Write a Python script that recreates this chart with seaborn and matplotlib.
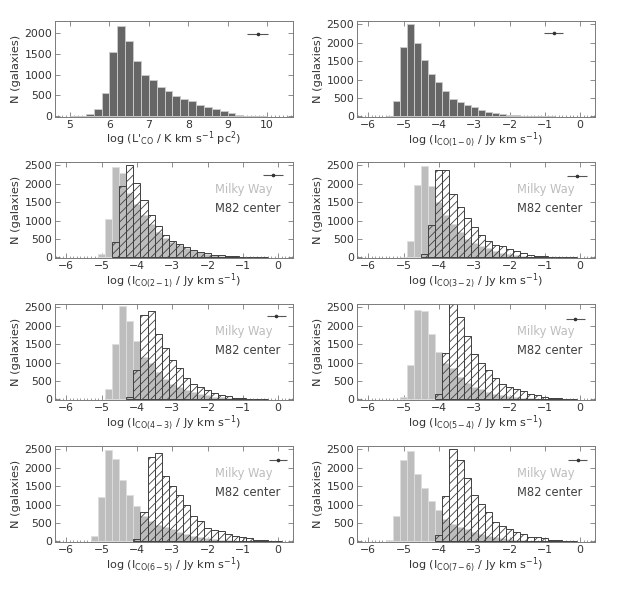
import numpy as np
import pandas as pd
import matplotlib
matplotlib.use("Agg")
import matplotlib.pyplot as plt
from matplotlib.ticker import MultipleLocator
import seaborn as sns

# ------------------------------
# data (bin width 0.2 dex, first bin's left edge given)
# ------------------------------
bin_width = 0.2

lco_start = 5.0
lco_counts = [5, 15, 50, 170, 560, 1530, 2170, 1790, 1330, 990, 870, 710, 600,
              490, 410, 360, 260, 230, 180, 120, 70, 40, 20, 10, 5]

co10_start = -5.5
co10_counts = [20, 420, 1890, 2500, 1990, 1530, 1160, 930, 690, 480, 400, 310,
               250, 180, 130, 95, 65, 45, 30, 20, 15, 10, 6, 4]

# Milky Way conversion (filled light grey)
mw21_start = -5.1
mw21_counts = [90, 1050, 2450, 2280, 1750, 1450, 1150, 900, 700, 520, 420, 330,
               260, 190, 140, 100, 70, 50, 30, 20, 15, 10]
mw32_start = -5.1
mw32_counts = [20, 450, 1960, 2480, 1950, 1500, 1150, 920, 700, 500, 400, 310,
               250, 180, 130, 90, 60, 40, 25, 15, 10, 6]
mw43_start = -4.9
mw43_counts = [280, 1500, 2530, 2120, 1600, 1150, 1000, 750, 560, 430, 340, 270,
               200, 150, 110, 80, 55, 40, 25, 15, 10]
mw54_start = -5.1
mw54_counts = [60, 930, 2440, 2390, 1780, 1290, 1000, 850, 600, 450, 350, 280,
               200, 160, 120, 90, 60, 40, 30, 20, 12, 8]
mw65_start = -5.3
mw65_counts = [140, 1210, 2480, 2250, 1680, 1250, 950, 700, 550, 450, 400, 330,
               260, 200, 150, 110, 80, 60, 45, 30, 20, 12, 8]
mw76_start = -5.5
mw76_counts = [30, 680, 2200, 2450, 1820, 1440, 1100, 850, 600, 480, 400, 330,
               260, 200, 160, 120, 90, 65, 50, 35, 25, 15, 10, 6]

# M82 center conversion (hatched)
m82_21_start = -4.7
m82_21_counts = [430, 1950, 2500, 2030, 1570, 1150, 850, 600, 450, 360, 280, 210,
                 160, 120, 80, 60, 40, 30, 20, 12, 8, 5]
m82_32_start = -4.5
m82_32_counts = [100, 880, 2370, 2370, 1720, 1360, 1070, 830, 620, 460, 350, 300,
                 220, 170, 130, 80, 50, 35, 25, 15, 10, 5]
m82_43_start = -4.3
m82_43_counts = [80, 800, 2300, 2390, 1770, 1390, 1080, 850, 580, 420, 330, 270,
                 180, 130, 100, 50, 30, 20, 10, 5]
m82_54_start = -4.1
m82_54_counts = [150, 1260, 2600, 2230, 1710, 1230, 1000, 800, 580, 430, 340, 280,
                 230, 160, 120, 80, 50, 30, 20, 10]
m82_65_start = -4.1
m82_65_counts = [70, 800, 2280, 2400, 1780, 1500, 1270, 1000, 680, 560, 360, 300,
                 270, 200, 160, 110, 80, 50, 30, 20, 10]
m82_76_start = -4.1
m82_76_counts = [180, 1230, 2500, 2210, 1720, 1250, 1020, 800, 540, 430, 330, 260,
                 200, 130, 110, 80, 50, 30, 20, 10]

# typical error bar shown in the upper right of every panel
err_x = [9.76, -0.75, -0.15, -0.09, -0.06, -0.14, -0.01, -0.07]
err_xerr = [0.26, 0.27, 0.28, 0.28, 0.27, 0.27, 0.26, 0.27]
err_y = [1960, 2255, 2250, 2200, 2260, 2180, 2220, 2220]

transitions = ["1-0", "2-1", "3-2", "4-3", "5-4", "6-5", "7-6"]

# ------------------------------
# style
# ------------------------------
sns.set_style("ticks")
plt.rcParams["font.family"] = ["DejaVu Sans"]
plt.rcParams["mathtext.fontset"] = "dejavusans"
plt.rcParams["hatch.linewidth"] = 0.6
plt.rcParams["hatch.color"] = "#404040"

dark_grey = "#666666"
light_grey = "#bdbdbd"
hatch_col = "#404040"
frame_col = "#7a7a7a"
text_col = "#333333"


def bars(ax, start, counts, **kws):
    counts = np.asarray(counts, dtype=float)
    edges = start + bin_width * np.arange(len(counts) + 1)
    df = pd.DataFrame({"x": 0.5 * (edges[:-1] + edges[1:]), "n": counts})
    sns.histplot(data=df, x="x", weights="n", bins=list(edges), ax=ax, **kws)


fig = plt.figure(figsize=(6.23, 5.90), dpi=100)

col_left = [0.0883, 0.573]
row_bottom = [0.8017, 0.5627, 0.3220, 0.0814]
ax_w, ax_h = 0.382, 0.1627

mw_sets = [(mw21_start, mw21_counts), (mw32_start, mw32_counts),
           (mw43_start, mw43_counts), (mw54_start, mw54_counts),
           (mw65_start, mw65_counts), (mw76_start, mw76_counts)]
m82_sets = [(m82_21_start, m82_21_counts), (m82_32_start, m82_32_counts),
            (m82_43_start, m82_43_counts), (m82_54_start, m82_54_counts),
            (m82_65_start, m82_65_counts), (m82_76_start, m82_76_counts)]

for i in range(8):
    r, c = divmod(i, 2)
    ax = fig.add_axes([col_left[c], row_bottom[r], ax_w, ax_h])

    if i == 0:
        bars(ax, lco_start, lco_counts, color=dark_grey, alpha=1,
             edgecolor="#c8c8c8", linewidth=0.7)
        ax.set_xlim(4.62, 10.66)
        ax.set_ylim(-15, 2280)
        ax.set_xticks([5, 6, 7, 8, 9, 10])
        ax.set_yticks([0, 500, 1000, 1500, 2000])
        ax.set_xlabel(r"log (L$'_{\rm CO}$ / K km s$^{-1}$ pc$^{2}$)")
    elif i == 1:
        bars(ax, co10_start, co10_counts, color=dark_grey, alpha=1,
             edgecolor="#c8c8c8", linewidth=0.7)
    else:
        ms, mc = mw_sets[i - 2]
        hs, hc = m82_sets[i - 2]
        bars(ax, ms, mc, color=light_grey, alpha=1,
             edgecolor="#dedede", linewidth=0.6)
        bars(ax, hs, hc, color=hatch_col, fill=False, hatch="////",
             linewidth=0.7)
        ax.text(0.672, 0.716, "Milky Way", transform=ax.transAxes,
                color=light_grey, fontsize=8.3, ha="left", va="center")
        ax.text(0.672, 0.513, "M82 center", transform=ax.transAxes,
                color=hatch_col, fontsize=8.3, ha="left", va="center")

    if i > 0:
        ax.set_xlim(-6.32, 0.42)
        ax.set_ylim(-15, 2590)
        ax.set_xticks(range(-6, 1))
        ax.set_yticks(range(0, 2501, 500))
        ax.set_xlabel(r"log (I$_{\rm CO(" + transitions[i - 1] + r")}$ / Jy km s$^{-1}$)")

    ax.errorbar([err_x[i]], [err_y[i]], xerr=[err_xerr[i]], fmt="o", ms=1.6,
                color="#555555", mfc="#333333", mec="#333333",
                elinewidth=0.8, capsize=0)

    ax.set_ylabel("N (galaxies)", fontsize=8.2, color=text_col, labelpad=2.5)
    ax.xaxis.label.set_fontsize(8.1)
    ax.xaxis.label.set_color(text_col)
    ax.xaxis.labelpad = 0
    ax.xaxis.set_minor_locator(MultipleLocator(0.1))
    ax.tick_params(which="both", direction="in", top=True, right=True,
                   color=frame_col, labelsize=7.8, labelcolor=text_col, pad=2)
    ax.tick_params(which="major", length=3.5, width=0.6)
    ax.tick_params(which="minor", length=1.5, width=0.5, top=False)
    for sp in ax.spines.values():
        sp.set_color(frame_col)
        sp.set_linewidth(0.7)

fig.savefig("out.png", dpi=100)
